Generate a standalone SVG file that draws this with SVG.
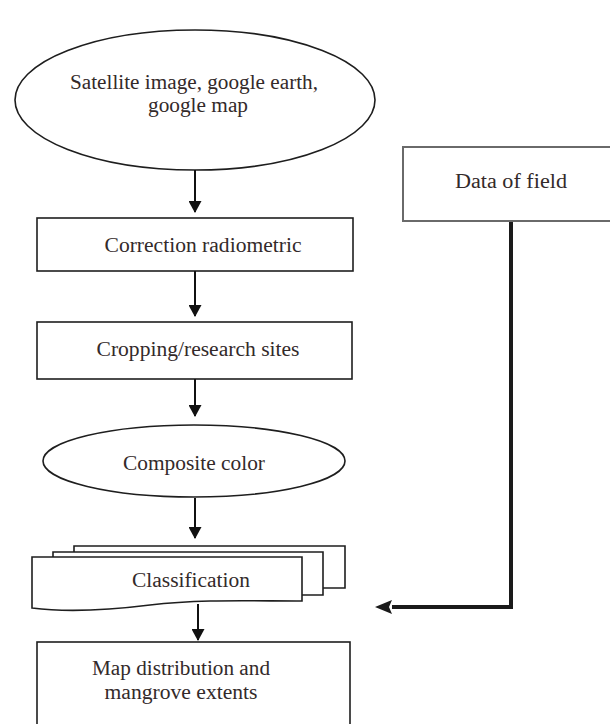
<svg xmlns="http://www.w3.org/2000/svg" width="610" height="724" viewBox="0 0 610 724">
<defs>
<style>
.shape{fill:#fff;stroke:#1e1e1e;stroke-width:1.6}
.t{font-family:"Liberation Serif","Times New Roman",serif;font-size:20px;fill:#332a2a;text-anchor:middle}
.c{stroke:#111;stroke-width:2;fill:none}
.thick{stroke:#1a1a1a;stroke-width:4;fill:none}
</style>
<marker id="ah" markerWidth="12" markerHeight="13" refX="11" refY="6.5" orient="auto" markerUnits="userSpaceOnUse" viewBox="0 0 12 13">
<path d="M0,0 L12,6.5 L0,13 Z" fill="#111"/>
</marker>
</defs>
<rect width="610" height="724" fill="#fff"/>

<g id="n-satellite">
<ellipse class="shape" cx="195" cy="100" rx="180" ry="70"/>
<text class="t" x="194" y="89" textLength="248" lengthAdjust="spacingAndGlyphs">Satellite image, google earth,</text>
<text class="t" x="198" y="112" textLength="100" lengthAdjust="spacingAndGlyphs">google map</text>
</g>

<g id="n-datafield">
<rect x="403" y="147" width="215" height="74" fill="#fff" stroke="#6a6a6a" stroke-width="2"/>
<text class="t" x="511" y="188" textLength="112" lengthAdjust="spacingAndGlyphs">Data of field</text>
</g>

<g id="n-correction">
<rect class="shape" x="37" y="218" width="316" height="53"/>
<text class="t" x="203" y="252" textLength="197" lengthAdjust="spacingAndGlyphs">Correction radiometric</text>
</g>

<g id="n-cropping">
<rect class="shape" x="37" y="322" width="315" height="57"/>
<text class="t" x="198" y="356" textLength="203" lengthAdjust="spacingAndGlyphs">Cropping/research sites</text>
</g>

<g id="n-composite">
<ellipse class="shape" cx="194" cy="461" rx="151" ry="36"/>
<text class="t" x="194" y="470" textLength="142" lengthAdjust="spacingAndGlyphs">Composite color</text>
</g>

<g id="n-classification">
<path class="shape" d="M74,552 V546 H345 V588 H323"/>
<path class="shape" d="M53,557 V552 H323 V595 H302"/>
<path class="shape" d="M32,557 H302 V601 C250,601 200,599 150,605 C110,610 70,613 32,608 Z"/>
<text class="t" x="191" y="587" textLength="118" lengthAdjust="spacingAndGlyphs">Classification</text>
</g>

<g id="n-map">
<rect class="shape" x="37" y="642" width="313" height="100"/>
<text class="t" x="181" y="675" textLength="178" lengthAdjust="spacingAndGlyphs">Map distribution and</text>
<text class="t" x="181" y="699" textLength="153" lengthAdjust="spacingAndGlyphs">mangrove extents</text>
</g>

<g id="connectors">
<line class="c" x1="195" y1="170" x2="195" y2="212" marker-end="url(#ah)"/>
<line class="c" x1="195" y1="271" x2="195" y2="316" marker-end="url(#ah)"/>
<line class="c" x1="195" y1="379" x2="195" y2="416" marker-end="url(#ah)"/>
<line class="c" x1="195" y1="498" x2="195" y2="538" marker-end="url(#ah)"/>
<line class="c" x1="198" y1="604" x2="198" y2="640" marker-end="url(#ah)"/>
<polyline class="thick" points="511,222 511,607 392,607"/>
<path d="M375,607 L392,600 L389,607 L392,614 Z" fill="#1a1a1a"/>
</g>
</svg>
